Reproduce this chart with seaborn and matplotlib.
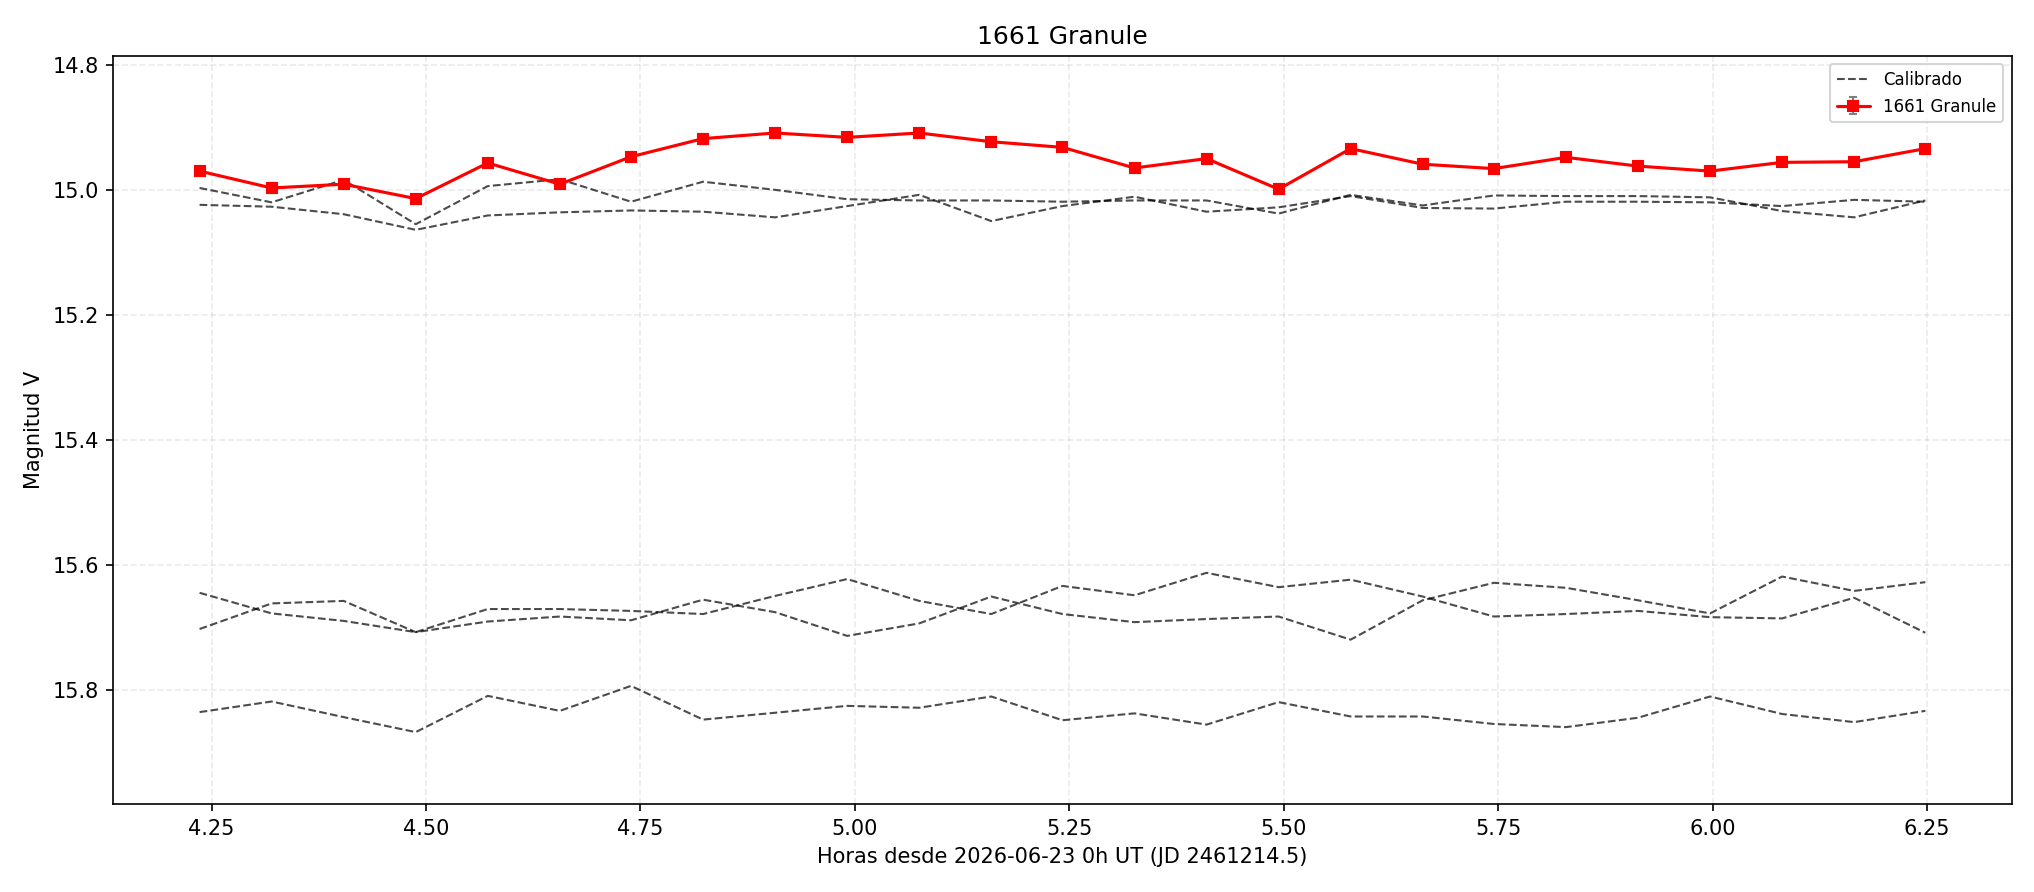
import numpy as np
import pandas as pd
import matplotlib
matplotlib.use("Agg")
import matplotlib.pyplot as plt
from matplotlib.lines import Line2D
import seaborn as sns

# Hours since 2026-06-23 0h UT
hours = [4.236, 4.320, 4.404, 4.488, 4.572, 4.656, 4.739, 4.823, 4.907, 4.991,
         5.075, 5.159, 5.242, 5.326, 5.410, 5.494, 5.578, 5.662, 5.745, 5.829,
         5.913, 5.997, 6.081, 6.165, 6.248]

# target magnitudes
granule_mag = [14.970, 14.997, 14.991, 15.014, 14.957, 14.991, 14.947, 14.918, 14.909, 14.916,
               14.909, 14.923, 14.932, 14.965, 14.950, 14.999, 14.934, 14.959, 14.966, 14.948,
               14.962, 14.970, 14.956, 14.955, 14.934]
granule_err = [0.008] * 25

# calibrated comparison stars
cal_a = [14.997, 15.020, 14.984, 15.055, 14.994, 14.983, 15.019, 14.987, 15.000, 15.015,
         15.017, 15.017, 15.019, 15.017, 15.017, 15.038, 15.008, 15.025, 15.009, 15.010,
         15.010, 15.012, 15.034, 15.044, 15.017]
cal_b = [15.024, 15.027, 15.039, 15.064, 15.041, 15.036, 15.033, 15.035, 15.044, 15.026,
         15.008, 15.050, 15.026, 15.011, 15.035, 15.028, 15.010, 15.029, 15.030, 15.019,
         15.019, 15.020, 15.026, 15.016, 15.019]
cal_c = [15.645, 15.678, 15.690, 15.708, 15.671, 15.671, 15.674, 15.679, 15.650, 15.623,
         15.658, 15.679, 15.634, 15.649, 15.613, 15.636, 15.624, 15.651, 15.683, 15.679,
         15.674, 15.684, 15.686, 15.653, 15.709]
cal_d = [15.703, 15.662, 15.658, 15.708, 15.691, 15.683, 15.689, 15.656, 15.676, 15.714,
         15.694, 15.651, 15.679, 15.692, 15.687, 15.683, 15.720, 15.657, 15.629, 15.637,
         15.657, 15.678, 15.619, 15.642, 15.628]
cal_e = [15.836, 15.819, 15.844, 15.868, 15.810, 15.834, 15.794, 15.848, 15.837, 15.826,
         15.829, 15.811, 15.849, 15.838, 15.856, 15.820, 15.843, 15.843, 15.855, 15.860,
         15.845, 15.811, 15.839, 15.852, 15.834]

cal = pd.DataFrame({
    "hours": hours * 5,
    "mag": cal_a + cal_b + cal_c + cal_d + cal_e,
    "star": np.repeat(["A", "B", "C", "D", "E"], len(hours)),
})

sns.set_style("ticks", {"text.color": "black", "axes.labelcolor": "black",
                        "xtick.color": "black", "ytick.color": "black",
                        "axes.edgecolor": "black"})
plt.rcParams["font.family"] = ["DejaVu Sans"]

fig, ax = plt.subplots(figsize=(13.56, 5.947), dpi=150)
fig.subplots_adjust(left=0.0557, right=0.989, top=0.937, bottom=0.0987)

sns.lineplot(data=cal, x="hours", y="mag", units="star", estimator=None,
             color="black", alpha=0.7, linewidth=1, linestyle="--",
             legend=False, ax=ax)

ax.errorbar(hours, granule_mag, yerr=granule_err, fmt="s-", color="red",
            markersize=5, linewidth=1.5, ecolor="gray", elinewidth=1,
            capsize=2, label="1661 Granule", zorder=3)

ax.set_ylim(15.983, 14.786)
ax.set_yticks([14.8, 15.0, 15.2, 15.4, 15.6, 15.8])
ax.set_xticks([4.25, 4.5, 4.75, 5.0, 5.25, 5.5, 5.75, 6.0, 6.25])
ax.grid(True, linestyle="--", alpha=0.4)

ax.set_title("1661 Granule", fontsize=12)
ax.set_xlabel("Horas desde 2026-06-23 0h UT (JD 2461214.5)")
ax.set_ylabel("Magnitud V")

handles, labels = ax.get_legend_handles_labels()
cal_handle = Line2D([], [], color="black", alpha=0.7, linewidth=1, linestyle="--")
ax.legend([cal_handle] + handles, ["Calibrado"] + labels, loc="upper right", fontsize=8)

fig.savefig("out.png", dpi=150)
